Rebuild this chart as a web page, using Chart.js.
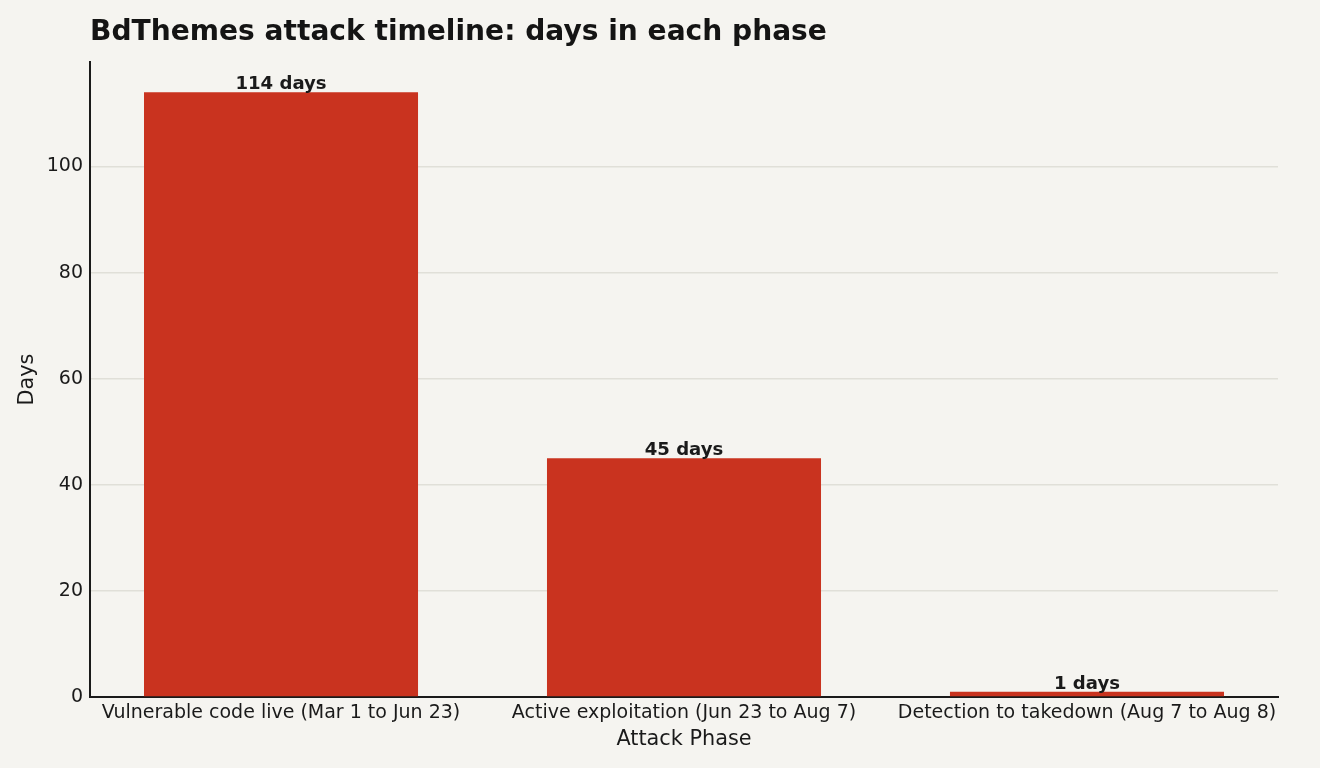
<!DOCTYPE html>
<html>
<head>
<meta charset="utf-8">
<script src="https://cdn.jsdelivr.net/npm/chart.js@4.4.1/dist/chart.umd.min.js"></script>
<style>
  html, body { margin: 0; padding: 0; background: #f5f4f0; }
  canvas { display: block; }
</style>
</head>
<body>
<canvas id="phaseChart" width="1320" height="768"></canvas>
<script>
const chartTitle = 'BdThemes attack timeline: days in each phase';
const phases = [
    'Vulnerable code live (Mar 1 to Jun 23)',
    'Active exploitation (Jun 23 to Aug 7)',
    'Detection to takedown (Aug 7 to Aug 8)'
];
const days = [114, 45, 1];
const yTicks = [0, 20, 40, 60, 80, 100];

const ink = '#1a1a1a';
const barRed = '#c9331f';

// titulo arriba a la izquierda, alineado con el eje
const titlePlugin = {
    id: 'leftTitle',
    afterDraw(chart) {
        const ctx = chart.ctx;
        ctx.save();
        ctx.font = 'bold 28.1px "DejaVu Sans"';
        ctx.fillStyle = '#141414';
        ctx.textAlign = 'left';
        ctx.textBaseline = 'alphabetic';
        ctx.fillText(chartTitle, chart.chartArea.left, 40);
        ctx.restore();
    }
};

// etiquetas "N days" encima de cada barra
const barLabels = {
    id: 'barLabels',
    afterDatasetsDraw(chart) {
        const ctx = chart.ctx;
        const meta = chart.getDatasetMeta(0);
        ctx.save();
        ctx.font = 'bold 18.1px "DejaVu Sans"';
        ctx.fillStyle = ink;
        ctx.textAlign = 'center';
        ctx.textBaseline = 'alphabetic';
        meta.data.forEach((bar, i) => {
            ctx.fillText(days[i] + ' days', bar.x, bar.y - 3);
        });
        ctx.restore();
    }
};

const ctx = document.getElementById('phaseChart').getContext('2d');

new Chart(ctx, {
    type: 'bar',
    data: {
        datasets: [{
            label: 'Days',
            data: days.map((d, i) => ({ x: i, y: d })),
            backgroundColor: barRed,
            borderWidth: 0,
            barPercentage: 0.68,
            categoryPercentage: 1
        }]
    },
    options: {
        responsive: false,
        animation: false,
        devicePixelRatio: 1,
        layout: {
            padding: { top: 62, right: 42, left: 0, bottom: 0 }
        },
        plugins: {
            legend: { display: false },
            tooltip: { enabled: false }
        },
        scales: {
            x: {
                type: 'linear',
                min: -0.474,
                max: 2.474,
                offset: false,
                afterBuildTicks: scale => {
                    scale.ticks = phases.map((p, i) => ({ value: i }));
                },
                afterFit: scale => { scale.height = 71; },
                grid: { display: false, drawTicks: false, offset: false },
                border: { display: true, color: ink, width: 2 },
                ticks: {
                    padding: 5,
                    color: ink,
                    maxRotation: 0,
                    autoSkip: false,
                    font: { family: 'DejaVu Sans', size: 19 },
                    callback: v => phases[v]
                },
                title: {
                    display: true,
                    text: 'Attack Phase',
                    color: ink,
                    font: { family: 'DejaVu Sans', size: 20.8 },
                    padding: { top: 0, bottom: 16 }
                }
            },
            y: {
                min: 0,
                max: 119.7,
                afterBuildTicks: scale => {
                    scale.ticks = yTicks.map(v => ({ value: v }));
                },
                afterFit: scale => { scale.width = 90; },
                grid: {
                    color: '#e0dfd8',
                    lineWidth: 1.5,
                    drawTicks: false
                },
                border: { display: true, color: ink, width: 2 },
                ticks: {
                    padding: 7,
                    color: ink,
                    font: { family: 'DejaVu Sans', size: 19 }
                },
                title: {
                    display: true,
                    text: 'Days',
                    color: ink,
                    font: { family: 'DejaVu Sans', size: 20.8 },
                    padding: { top: 15.5, bottom: 0 }
                }
            }
        }
    },
    plugins: [titlePlugin, barLabels]
});
</script>
</body>
</html>
